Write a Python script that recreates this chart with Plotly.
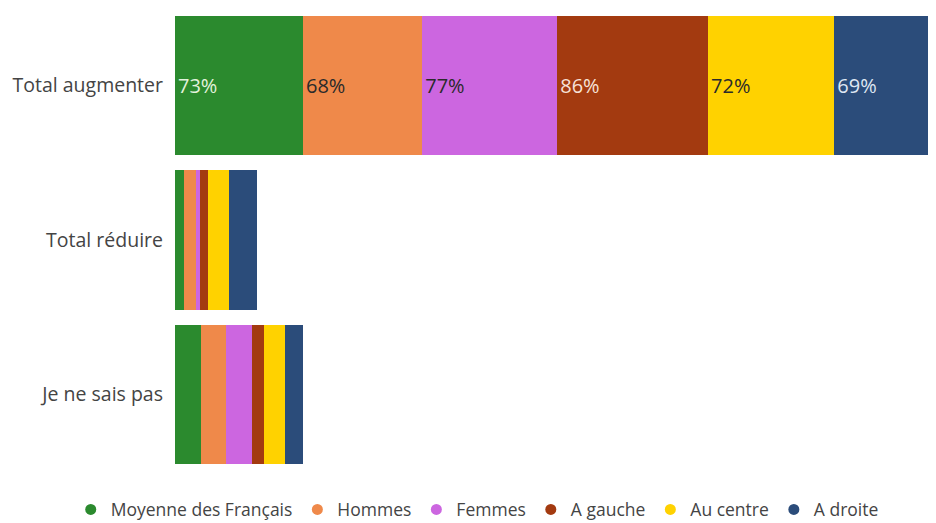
import plotly.graph_objects as go

categories = ["Total augmenter", "Total réduire", "Je ne sais pas"]
series_names = ["Moyenne des Français", "Hommes", "Femmes", "A gauche", "Au centre", "A droite"]
moyenne = [73, 5, 15]
hommes = [68, 7, 14]
femmes = [77, 2, 15]
a_gauche = [86, 5, 7]
au_centre = [72, 12, 12]
a_droite = [69, 16, 10]
values = [moyenne, hommes, femmes, a_gauche, au_centre, a_droite]
colors = ["#2b8a2e", "#ef894a", "#cc66e0", "#a33a10", "#ffd200", "#2b4c7a"]
text_colors = ["#e3f2dc", "#2a2a2a", "#2a2a2a", "#f7e2d8", "#2a2a2a", "#dfe7f3"]

fig = go.Figure()
for name, vals, col, tcol in zip(series_names, values, colors, text_colors):
    fig.add_trace(go.Bar(
        y=categories, x=vals, name=name, orientation="h",
        marker=dict(color=col, line=dict(width=0)),
        text=[f"{vals[0]}%", "", ""], textposition="inside",
        insidetextanchor="start", textangle=0,
        textfont=dict(color=tcol, size=20, family="Open Sans"),
        showlegend=False, hoverinfo="skip",
    ))
for name, col in zip(series_names, colors):
    fig.add_trace(go.Scatter(
        x=[None], y=[None], mode="markers", name=name,
        marker=dict(color=col, size=11, symbol="circle"),
        showlegend=True,
    ))

fig.update_layout(
    barmode="stack",
    bargap=0.1,
    width=928, height=535,
    margin=dict(l=167, r=0, t=0, b=71),
    paper_bgcolor="white", plot_bgcolor="white",
    font=dict(family="Open Sans", size=17, color="#444444"),
    xaxis=dict(range=[0, 434], visible=False, showgrid=False, zeroline=False, fixedrange=True),
    yaxis=dict(autorange="reversed", showgrid=False, zeroline=False, ticks="",
               automargin=False, ticklabelstandoff=11,
               tickfont=dict(size=19.5, color="#444444")),
    legend=dict(orientation="h", xref="paper", yref="paper",
                x=-0.137, xanchor="left", y=-0.081, yanchor="middle",
                font=dict(size=17.5, color="#444444"), itemwidth=30,
                tracegroupgap=0, traceorder="normal"),
    uniformtext=dict(mode="show", minsize=10),
)

fig.write_html("out.html")
